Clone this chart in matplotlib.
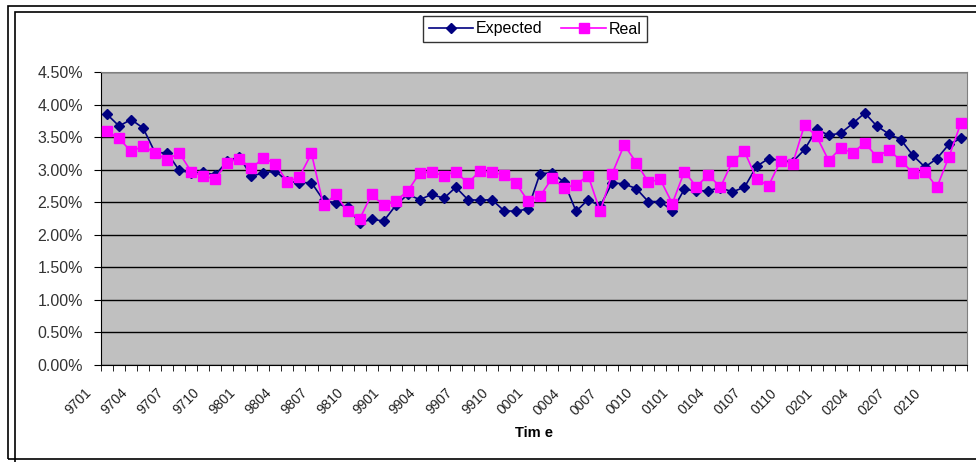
import matplotlib.pyplot as plt
import matplotlib.transforms as mtransforms
from matplotlib.patches import Rectangle
from matplotlib.ticker import FuncFormatter, MultipleLocator, FixedLocator

plt.rcParams['font.family'] = ['Liberation Sans', 'DejaVu Sans']

# monthly periods 9701 .. 0212 (yymm)
periods = [f'{(97 + i // 12) % 100:02d}{i % 12 + 1:02d}' for i in range(72)]

expected = [3.85, 3.67, 3.77, 3.64, 3.26, 3.26, 2.99, 2.95, 2.96, 2.92,
            3.13, 3.20, 2.90, 2.95, 2.98, 2.82, 2.80, 2.80, 2.53, 2.49,
            2.42, 2.18, 2.24, 2.21, 2.45, 2.62, 2.54, 2.62, 2.56, 2.73,
            2.54, 2.53, 2.54, 2.37, 2.36, 2.40, 2.94, 2.95, 2.81, 2.36,
            2.54, 2.44, 2.80, 2.78, 2.71, 2.51, 2.51, 2.37, 2.70, 2.67,
            2.68, 2.72, 2.66, 2.73, 3.05, 3.17, 3.14, 3.12, 3.31, 3.62,
            3.53, 3.56, 3.71, 3.87, 3.67, 3.55, 3.46, 3.22, 3.04, 3.17,
            3.39, 3.48]

real = [3.59, 3.48, 3.28, 3.36, 3.26, 3.15, 3.26, 2.97, 2.90, 2.86,
        3.11, 3.17, 3.02, 3.18, 3.09, 2.81, 2.89, 3.25, 2.45, 2.62,
        2.36, 2.24, 2.62, 2.45, 2.52, 2.67, 2.95, 2.96, 2.91, 2.97,
        2.79, 2.98, 2.96, 2.92, 2.79, 2.52, 2.59, 2.87, 2.72, 2.77,
        2.91, 2.36, 2.94, 3.38, 3.11, 2.81, 2.85, 2.48, 2.97, 2.74,
        2.92, 2.73, 3.13, 3.28, 2.86, 2.75, 3.14, 3.09, 3.69, 3.51,
        3.14, 3.33, 3.26, 3.41, 3.20, 3.30, 3.14, 2.95, 2.97, 2.73,
        3.20, 3.72]

x = list(range(len(periods)))

fig = plt.figure(figsize=(9.76, 4.62), dpi=100)
W, H = 976, 462

# chart frames (outer and inner border)
fig.add_artist(Rectangle((8 / W, 1 - 459 / H), 980 / W, 453 / H, transform=fig.transFigure,
                         fill=False, edgecolor='black', linewidth=1.2))
fig.add_artist(Rectangle((15 / W, 1 - 470 / H), 980 / W, 458 / H, transform=fig.transFigure,
                         fill=False, edgecolor='black', linewidth=1.2))

ax = fig.add_axes([101 / W, 1 - 365 / H, 866 / W, 293 / H])
ax.set_facecolor('#C0C0C0')
ax.set_xlim(-0.5, 71.5)
ax.set_ylim(0, 4.5)

ax.yaxis.set_major_locator(MultipleLocator(0.5))
ax.yaxis.set_major_formatter(FuncFormatter(lambda v, p: f'{v:.2f}%'))
ax.grid(axis='y', color='black', linewidth=1.0)
ax.set_axisbelow(True)

ax.plot(x, expected, color='#000080', marker='D', markersize=5, linewidth=1.2,
        label='Expected', zorder=3)
ax.plot(x, real, color='#FF00FF', marker='s', markersize=6.5, linewidth=1.2,
        label='Real', zorder=3)

# category boundary ticks, labels every 3rd month
ax.xaxis.set_minor_locator(FixedLocator([i - 0.5 for i in range(73)]))
ax.set_xticks(x[::3])
ax.set_xticklabels(periods[::3], rotation=45, ha='right', rotation_mode='anchor',
                   fontsize=10, color='#222222')
ax.tick_params(axis='x', which='major', length=0, pad=15)
ax.tick_params(axis='x', which='minor', length=4, direction='out', color='black')
ax.tick_params(axis='y', length=5, direction='out', labelsize=11.5, labelcolor='#333333', pad=8)

shift = mtransforms.ScaledTranslation(-23 / 100, 0, fig.dpi_scale_trans)
for lab in ax.get_xticklabels():
    lab.set_transform(lab.get_transform() + shift)

for side in ['top', 'right']:
    ax.spines[side].set_color('#808080')
ax.spines['left'].set_color('black')
ax.spines['bottom'].set_color('black')

ax.set_xlabel('Tim e', fontsize=10.5, fontweight='bold', labelpad=6)

leg = fig.legend(loc='center', bbox_to_anchor=(535 / W, 1 - 29 / H), ncol=2,
                 frameon=True, fancybox=False, shadow=False, fontsize=11.5,
                 handlelength=2.8, handletextpad=0.15, columnspacing=1.2,
                 borderpad=0.35, edgecolor='black')
leg.get_frame().set_linewidth(1.0)

fig.savefig('out.png', dpi=100)
